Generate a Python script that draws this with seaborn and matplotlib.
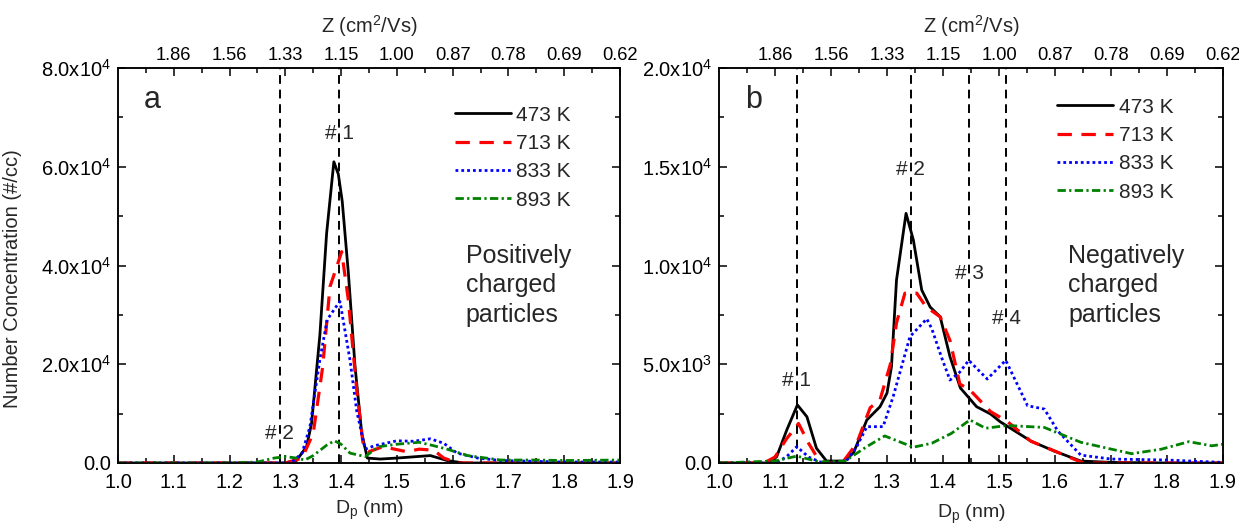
import numpy as np
import pandas as pd
import matplotlib
matplotlib.use("Agg")
import matplotlib.pyplot as plt
import seaborn as sns
from matplotlib.ticker import MultipleLocator, FixedLocator, FuncFormatter

# ---------------------------------------------------------------------------
# Data: size distributions (D_p in nm, number concentration in #/cc)
# ---------------------------------------------------------------------------
temps = ["473 K", "713 K", "833 K", "893 K"]

# (a) positively charged particles
dp_a_473 = [1.00, 1.10, 1.20, 1.28, 1.30, 1.32, 1.338, 1.347, 1.362, 1.374, 1.387, 1.395,
            1.402, 1.413, 1.425, 1.437, 1.447, 1.47, 1.50, 1.56, 1.59, 1.62, 1.70, 1.80, 1.90]
nc_a_473 = [0, 0, 0, 0, 0, 500, 3300, 8000, 26000, 46500, 61000, 58500,
            53000, 38500, 19500, 6000, 1000, 800, 1000, 1500, 500, 0, 0, 0, 0]

dp_a_713 = [1.00, 1.20, 1.30, 1.33, 1.35, 1.367, 1.38, 1.392, 1.401, 1.413, 1.428, 1.44,
            1.45, 1.475, 1.517, 1.54, 1.566, 1.584, 1.61, 1.70, 1.80, 1.90]
nc_a_713 = [0, 0, 0, 1000, 6000, 19500, 35700, 39700, 42800, 33000, 14800, 3300,
            2300, 3300, 2300, 2800, 2600, 1000, 0, 0, 0, 0]

dp_a_833 = [1.00, 1.20, 1.31, 1.33, 1.344, 1.362, 1.375, 1.39, 1.398, 1.416, 1.428, 1.443,
            1.46, 1.50, 1.53, 1.56, 1.584, 1.608, 1.645, 1.686, 1.80, 1.90]
nc_a_833 = [0, 0, 0, 2000, 7300, 21000, 29000, 31500, 32700, 20800, 10500, 2800,
            3500, 4500, 4400, 4900, 4000, 2000, 1000, 500, 200, 200]

dp_a_893 = [1.00, 1.20, 1.25, 1.28, 1.30, 1.32, 1.335, 1.35, 1.374, 1.388, 1.40, 1.416,
            1.443, 1.467, 1.50, 1.54, 1.566, 1.59, 1.627, 1.686, 1.75, 1.80, 1.90]
nc_a_893 = [0, 0, 200, 1000, 1300, 1000, 600, 1500, 3600, 4500, 3800, 2000,
            1300, 3300, 3800, 4200, 3500, 2800, 1500, 600, 600, 500, 600]

# (b) negatively charged particles
dp_b_473 = [1.00, 1.09, 1.103, 1.121, 1.14, 1.157, 1.174, 1.192, 1.222, 1.24, 1.264, 1.2875,
            1.30, 1.308, 1.317, 1.334, 1.347, 1.362, 1.377, 1.395, 1.4125, 1.431, 1.46, 1.485,
            1.502, 1.557, 1.599, 1.646, 1.70, 1.80, 1.90]
nc_b_473 = [0, 0, 320, 1670, 2940, 2340, 750, 100, 100, 500, 2180, 2850,
            3540, 4880, 9270, 12640, 11300, 8760, 7900, 7400, 5380, 3800, 2850, 2480,
            2090, 1110, 600, 100, 30, 0, 0]

dp_b_713 = [1.00, 1.08, 1.10, 1.12, 1.142, 1.16, 1.175, 1.19, 1.22, 1.246, 1.27, 1.2875,
            1.306, 1.317, 1.332, 1.353, 1.37, 1.395, 1.4125, 1.43, 1.448, 1.485, 1.515,
            1.557, 1.60, 1.646, 1.66, 1.90]
nc_b_713 = [0, 0, 300, 1200, 2000, 1000, 300, 0, 0, 1000, 2800, 3200,
            5000, 7100, 8600, 8600, 7900, 7400, 6200, 4000, 3700, 2600, 2100,
            1100, 600, 50, 0, 0]

dp_b_833 = [1.00, 1.10, 1.12, 1.139, 1.16, 1.185, 1.225, 1.246, 1.264, 1.293, 1.311, 1.341,
            1.371, 1.38, 1.398, 1.4125, 1.43, 1.446, 1.479, 1.512, 1.551, 1.581, 1.605,
            1.646, 1.70, 1.80, 1.90]
nc_b_833 = [0, 0, 300, 830, 300, 0, 0, 830, 1840, 1840, 3360, 6400,
            7300, 6800, 5300, 4200, 4600, 5200, 4250, 5200, 2900, 2730, 1620,
            400, 200, 150, 30]

dp_b_893 = [1.00, 1.10, 1.139, 1.18, 1.225, 1.264, 1.296, 1.347, 1.38, 1.415, 1.448, 1.476,
            1.515, 1.581, 1.646, 1.737, 1.79, 1.839, 1.88, 1.90]
nc_b_893 = [0, 100, 350, 50, 100, 830, 1370, 800, 1000, 1500, 2180, 1760,
            1900, 1800, 1050, 470, 700, 1080, 870, 950]

# Peak markers (D_p positions of the dashed guide lines) and their labels
peaks_a_dp = [1.397, 1.29]
peaks_a_lab = ["# 1", "# 2"]
peaks_a_lab_y = [66800, 5900]

peaks_b_dp = [1.139, 1.342, 1.447, 1.513]
peaks_b_lab = ["# 1", "# 2", "# 3", "# 4"]
peaks_b_lab_y = [4200, 14840, 9570, 7340]

# Electrical mobility on the top axis at D_p = 1.1 ... 1.9 nm
z_tick_dp = [1.1, 1.2, 1.3, 1.4, 1.5, 1.6, 1.7, 1.8, 1.9]
z_tick_labels = ["1.86", "1.56", "1.33", "1.15", "1.00", "0.87", "0.78", "0.69", "0.62"]


def long_frame(panel_series):
    frames = []
    for t, (x, y) in zip(temps, panel_series):
        frames.append(pd.DataFrame({"Dp": x, "N": y, "T": t}))
    return pd.concat(frames, ignore_index=True)


df_a = long_frame([(dp_a_473, nc_a_473), (dp_a_713, nc_a_713),
                   (dp_a_833, nc_a_833), (dp_a_893, nc_a_893)])
df_b = long_frame([(dp_b_473, nc_b_473), (dp_b_713, nc_b_713),
                   (dp_b_833, nc_b_833), (dp_b_893, nc_b_893)])

# ---------------------------------------------------------------------------
# Styling
# ---------------------------------------------------------------------------
sns.set_theme(style="ticks")
plt.rcParams["font.family"] = ["Liberation Sans", "DejaVu Sans"]
plt.rcParams["mathtext.fontset"] = "custom"
plt.rcParams["mathtext.rm"] = "Liberation Sans"
plt.rcParams["mathtext.it"] = "Liberation Sans:italic"
plt.rcParams["mathtext.default"] = "rm"
plt.rcParams["axes.edgecolor"] = "black"
plt.rcParams["axes.linewidth"] = 1.1

line_style = {
    "473 K": dict(color="black", lw=2.0, ls="-"),
    "713 K": dict(color="#ff0000", lw=2.3, ls=(0, (4.5, 3.0))),
    "833 K": dict(color="#0000ff", lw=2.0, ls=(0, (1.0, 1.1))),
    "893 K": dict(color="#008000", lw=2.0, ls=(0, (3.0, 1.2, 0.8, 1.2))),
}


def sci_fmt(v, pos):
    if abs(v) < 1e-9:
        return "0.0"
    e = int(np.floor(np.log10(abs(v)) + 1e-9))
    m = v / 10 ** e
    return f"{m:.1f}x10$^{{{e}}}$"


fig = plt.figure(figsize=(12.39, 5.27), dpi=100)
ax_a = fig.add_axes([118 / 1239, 1 - 463 / 527, 502 / 1239, 395 / 527])
ax_b = fig.add_axes([719 / 1239, 1 - 463 / 527, 504 / 1239, 395 / 527])

TICK_FS = 14.5


def draw_panel(ax, df, ymax, ymajor, peaks_dp, peaks_lab, peaks_lab_y, letter, note,
               leg_anchor, xlabel_y):
    for t in temps:
        sub = df[df["T"] == t]
        st = line_style[t]
        sns.lineplot(data=sub, x="Dp", y="N", ax=ax, color=st["color"], linewidth=st["lw"],
                     linestyle=st["ls"], label=t, estimator=None, sort=False, zorder=3)

    for xp, lab, ly in zip(peaks_dp, peaks_lab, peaks_lab_y):
        ax.axvline(xp, color="black", lw=1.4, ls=(0, (4.5, 3)), zorder=2)
        ax.text(xp, ly, lab, ha="center", va="center", fontsize=15, zorder=4)

    ax.set_xlim(1.0, 1.9)
    ax.set_ylim(0, ymax)
    ax.xaxis.set_major_locator(MultipleLocator(0.1))
    ax.xaxis.set_minor_locator(MultipleLocator(0.05))
    ax.xaxis.set_major_formatter(FuncFormatter(lambda v, p: f"{v:.1f}"))
    ax.yaxis.set_major_locator(MultipleLocator(ymajor))
    ax.yaxis.set_minor_locator(MultipleLocator(ymajor / 2))
    ax.yaxis.set_major_formatter(FuncFormatter(sci_fmt))
    ax.tick_params(which="both", direction="in", top=False, right=True, width=1.1,
                   labelsize=TICK_FS, colors="black")
    ax.tick_params(which="major", length=6)
    ax.tick_params(which="minor", length=3.5)
    ax.tick_params(axis="x", pad=7)
    ax.tick_params(axis="y", pad=5)

    ax.set_xlabel("D$_p$ (nm)", fontsize=14)
    ax.xaxis.set_label_coords(0.5, xlabel_y)
    ax.set_ylabel("")

    # mobility axis on top
    top = ax.twiny()
    top.set_xlim(ax.get_xlim())
    top.xaxis.set_major_locator(FixedLocator(z_tick_dp))
    top.xaxis.set_minor_locator(FixedLocator(np.arange(1.05, 1.9, 0.1)))
    top.set_xticklabels(z_tick_labels)
    top.tick_params(which="both", direction="in", width=1.1, labelsize=13.2, pad=3,
                    colors="black")
    top.tick_params(which="major", length=6)
    top.tick_params(which="minor", length=3.5)
    top.set_xlabel("Z (cm$^2$/Vs)", fontsize=14.5, labelpad=10)

    ax.text(0.052, 0.919, letter, transform=ax.transAxes, fontsize=22, ha="left", va="center")
    ax.text(0.693, 0.555, note, transform=ax.transAxes, fontsize=18, ha="left", va="top",
            linespacing=1.3)

    handles, labels = ax.get_legend_handles_labels()
    ax.legend(handles, labels, loc="upper left", bbox_to_anchor=leg_anchor, frameon=False,
              fontsize=15, handlelength=2.7, handletextpad=0.25, labelspacing=0.45,
              borderaxespad=0, borderpad=0)


draw_panel(ax_a, df_a, 8.0e4, 2.0e4, peaks_a_dp, peaks_a_lab, peaks_a_lab_y, "a",
           "Positively\ncharged\nparticles", (0.671, 0.905), -0.09)
draw_panel(ax_b, df_b, 2.0e4, 5.0e3, peaks_b_dp, peaks_b_lab, peaks_b_lab_y, "b",
           "Negatively\ncharged\nparticles", (0.671, 0.925), -0.1)

ax_a.set_ylabel("Number Concentration (#/cc)", fontsize=14.5)
ax_a.yaxis.set_label_coords(-0.191, 0.468)

fig.savefig("out.png", dpi=100)
